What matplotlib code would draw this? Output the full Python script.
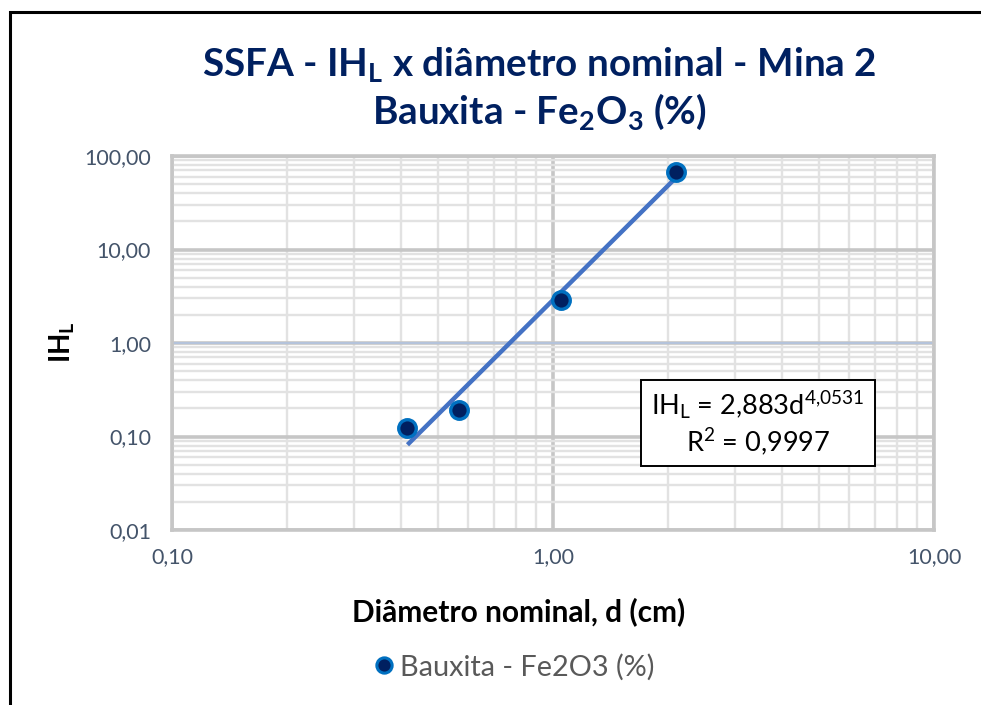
import matplotlib
matplotlib.use("Agg")
import matplotlib.pyplot as plt
from matplotlib.patches import Rectangle
from matplotlib.lines import Line2D
from matplotlib.ticker import FixedLocator, LogLocator, NullFormatter
import numpy as np

# --- data -------------------------------------------------------------
diametro = [0.415, 0.565, 1.05, 2.10]          # d (cm)
ih_l = [0.122, 0.19, 2.86, 67.5]               # IH_L
coef_a = 2.883                                 # power-law trend: IH_L = a * d^b
coef_b = 4.0531
r2 = 0.9997
x_ticks = [0.1, 1.0, 10.0]
x_tick_labels = ["0,10", "1,00", "10,00"]
y_ticks = [0.01, 0.1, 1.0, 10.0, 100.0]
y_tick_labels = ["0,01", "0,10", "1,00", "10,00", "100,00"]
serie_nome = "Bauxita - Fe2O3 (%)"

# --- style ------------------------------------------------------------
plt.rcParams["font.family"] = ["Lato", "DejaVu Sans"]
plt.rcParams["mathtext.fontset"] = "custom"
plt.rcParams["mathtext.rm"] = "Lato"
plt.rcParams["mathtext.it"] = "Lato:italic"
plt.rcParams["mathtext.bf"] = "Lato:bold"

W, H = 981, 705
fig = plt.figure(figsize=(W / 100, H / 100), dpi=100)
fig.patch.set_facecolor("white")

def fx(px):
    return px / W

def fy(py):
    return 1 - py / H

# outer chart frame
fig.patches.append(Rectangle((fx(10), fy(H + 20)), fx(W + 20), fy(12) - fy(H + 20),
                             transform=fig.transFigure, fill=False,
                             edgecolor="black", linewidth=2.2))

ax = fig.add_axes([fx(172), fy(530), fx(934) - fx(172), fy(156) - fy(530)])
ax.set_xscale("log")
ax.set_yscale("log")
ax.set_xlim(0.1, 10)
ax.set_ylim(0.01, 100)

major_c = "#c6c6c6"
minor_c = "#e2e2e2"
ax.xaxis.set_major_locator(FixedLocator(x_ticks))
ax.yaxis.set_major_locator(FixedLocator(y_ticks))
ax.xaxis.set_minor_locator(LogLocator(base=10, subs=np.arange(2, 10)))
ax.yaxis.set_minor_locator(LogLocator(base=10, subs=np.arange(2, 10)))
ax.xaxis.set_minor_formatter(NullFormatter())
ax.yaxis.set_minor_formatter(NullFormatter())
ax.set_xticklabels(x_tick_labels)
ax.set_yticklabels(y_tick_labels)
ax.grid(which="minor", color=minor_c, linewidth=1.7, zorder=0)
ax.grid(which="major", color=major_c, linewidth=2.6, zorder=0)
ax.set_axisbelow(True)
for s in ax.spines.values():
    s.set_color(major_c)
    s.set_linewidth(2.6)
ax.tick_params(which="both", length=0)
ax.tick_params(axis="x", pad=12, labelsize=15.5, labelcolor="#44546a")
ax.tick_params(axis="y", pad=15, labelsize=15.5, labelcolor="#44546a")

# horizontal axis line crossing at 1
ax.axhline(1.0, color="#b4c3dc", linewidth=1.4, zorder=1)

# trend line from the fitted power law
xt = np.linspace(min(diametro), max(diametro), 200)
ax.plot(xt, coef_a * xt ** coef_b, color="#4472c4", linewidth=3.2,
        solid_capstyle="butt", zorder=3)

# data points
ax.scatter(diametro, ih_l, s=160, facecolor="#002060", edgecolor="#0070c0",
           linewidth=2.4, zorder=4)

# axis titles
fig.text(fx(519), fy(612), "Diâmetro nominal, d (cm)", fontsize=21.5,
         fontweight="bold", color="black", ha="center", va="center")
fig.text(fx(62), fy(342), r"IH$_{\mathbf{L}}$", rotation=90, fontsize=20,
         fontweight="bold", ha="center", va="center")

# chart title
title_c = "#002060"
fig.text(fx(539), fy(64), r"SSFA - IH$_{\mathbf{L}}$ x diâmetro nominal - Mina 2",
         fontsize=27.8, fontweight="bold", color=title_c, ha="center", va="center")
fig.text(fx(539), fy(112), r"Bauxita - Fe$_{\mathbf{2}}$O$_{\mathbf{3}}$ (%)",
         fontsize=27.8, fontweight="bold", color=title_c, ha="center", va="center")

# trend equation box
fig.patches.append(Rectangle((fx(641), fy(466)), fx(875) - fx(641), fy(380) - fy(466),
                             transform=fig.transFigure, facecolor="white",
                             edgecolor="black", linewidth=1.4, zorder=5))
a_txt = f"{coef_a:.3f}".replace(".", ",")
b_txt = f"{coef_b:.4f}".replace(".", "{,}")
fig.text(fx(758), fy(405), r"IH$_{\mathrm{L}}$ = " + a_txt + r"d$^{" + b_txt + r"}$",
         fontsize=19.5, ha="center", va="center", zorder=6)
fig.text(fx(758), fy(442), r"R$^{\mathrm{2}}$ = " + f"{r2:.4f}".replace(".", ","),
         fontsize=19.5, ha="center", va="center", zorder=6)

# legend
handle = Line2D([], [], linestyle="none", marker="o", markersize=11,
                markerfacecolor="#002060", markeredgecolor="#0070c0",
                markeredgewidth=2.2)
fig.legend([handle], [serie_nome], loc="center", bbox_to_anchor=(fx(512), fy(667)),
           frameon=False, fontsize=20.8, labelcolor="#595959", handletextpad=0.05,
           handlelength=1.0)

fig.savefig("out.png", dpi=100)
